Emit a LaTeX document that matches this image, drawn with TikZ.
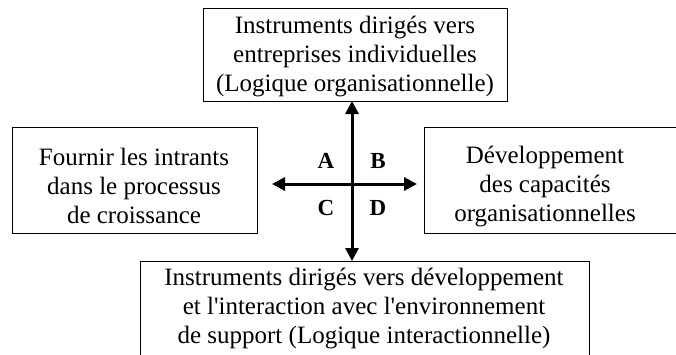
\documentclass[tikz,border=0pt]{standalone}
\usepackage{fontspec}
\setmainfont{Liberation Serif}[Ligatures=TeXOff]
\usetikzlibrary{arrows.meta}
\begin{document}
\begin{tikzpicture}[x=1pt,y=-1pt,
  box/.style={draw=black,line width=1pt,inner sep=0pt,outer sep=0pt},
  txt/.style={align=center,inner sep=0pt,font=\fontsize{25}{29}\selectfont},
  quad/.style={inner sep=0pt,font=\fontsize{23}{23}\selectfont\bfseries},
  axis/.style={line width=3pt,{Triangle[length=13pt,width=13pt]}-{Triangle[length=13pt,width=13pt]}}]
\useasboundingbox (0,0) rectangle (676,354);
% boxes
\node[box,minimum width=304pt,minimum height=93pt,anchor=north west] (top) at (203,8) {};
\node[box,minimum width=245pt,minimum height=106pt,anchor=north west] (left) at (12,127) {};
\node[box,minimum width=262pt,minimum height=106pt,anchor=north west] (right) at (424,127) {};
\node[box,minimum width=449pt,minimum height=110pt,anchor=north west] (bot) at (140,261) {};
% texts
\node[txt] (toptxt) at (355,57) {Instruments dirigés vers\\entreprises individuelles\\(Logique organisationnelle)};
\node[txt] (lefttxt) at (134,186) {Fournir les intrants\\dans le processus\\de croissance};
\node[txt] (righttxt) at (545,186) {Développement\\des capacités\\organisationnelles};
\node[txt] (bottxt) at (364,308) {Instruments dirigés vers développement\\et l'interaction avec l'environnement\\de support (Logique interactionnelle)};
% axes
\coordinate (c) at (352,184);
\coordinate (hl) at (272,184);
\coordinate (hr) at (417,184);
\draw[axis] (c |- top.south) -- (c |- bot.north);
\draw[axis] (hl) -- (hr);
% quadrant letters
\node[quad] (A) at (326,161) {A};
\node[quad] (B) at (378,161) {B};
\node[quad] (C) at (326,208) {C};
\node[quad] (D) at (378,208) {D};
\end{tikzpicture}
\end{document}
